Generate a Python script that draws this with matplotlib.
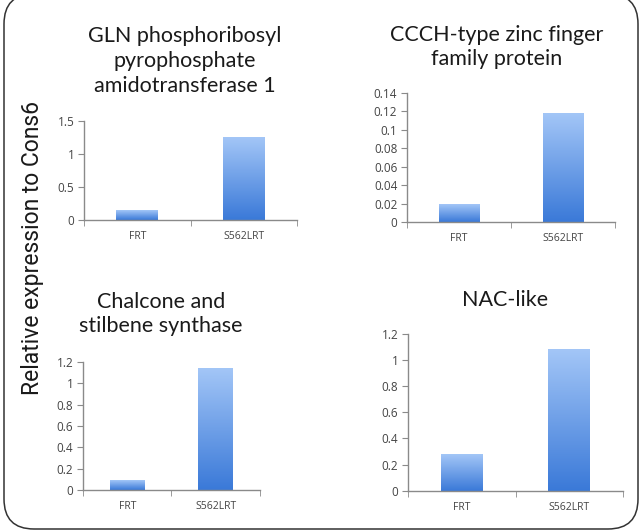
import matplotlib
matplotlib.use("Agg")
import matplotlib.pyplot as plt
import numpy as np
from matplotlib.colors import LinearSegmentedColormap
from matplotlib.patches import FancyBboxPatch
from matplotlib.ticker import FixedLocator

# data
categories = ["FRT", "S562LRT"]
gln_values = [0.145, 1.25]
ccch_values = [0.0185, 0.118]
chalcone_values = [0.088, 1.135]
nac_values = [0.28, 1.08]

titles = [
    "GLN phosphoribosyl\npyrophosphate\namidotransferase 1",
    "CCCH-type zinc finger\nfamily protein",
    "Chalcone and\nstilbene synthase",
    "NAC-like",
]
yticks = [
    [0, 0.5, 1, 1.5],
    [0, 0.02, 0.04, 0.06, 0.08, 0.1, 0.12, 0.14],
    [0, 0.2, 0.4, 0.6, 0.8, 1, 1.2],
    [0, 0.2, 0.4, 0.6, 0.8, 1, 1.2],
]
ylabel = "Relative expression to Cons6"

W, H = 642, 531
BAR_CMAP = LinearSegmentedColormap.from_list("excel_blue", ["#3a79d8", "#a3c6f7"])
AXIS_COLOR = "#8a8a8a"
TITLE_FONT = ["Lato", "DejaVu Sans"]
TICK_FONT = ["Open Sans", "Lato", "DejaVu Sans"]

# panel layout in pixels: left, right, bottom(y=0), top(ymax)
layout = [
    (84, 297, 220.3, 121),
    (407, 615, 222, 93),
    (83, 260, 490, 362),
    (408, 623, 490.7, 334),
]
# title centre in pixels
title_pos = [(185, 61), (497, 47), (161, 314), (505, 300)]

fig = plt.figure(figsize=(W / 100, H / 100), dpi=100)

# rounded border frame
bg = fig.add_axes([0, 0, 1, 1])
bg.set_xlim(0, W)
bg.set_ylim(H, 0)
bg.axis("off")
frame = FancyBboxPatch((4, -6), 634, 535, boxstyle="round,pad=0,rounding_size=30",
                       fill=False, edgecolor="#333333", linewidth=1.1)
bg.add_patch(frame)


def fmt(v):
    s = ("%.2f" % v).rstrip("0").rstrip(".")
    return s


datasets = [gln_values, ccch_values, chalcone_values, nac_values]
for i, values in enumerate(datasets):
    l, r, b, t = layout[i]
    ax = fig.add_axes([l / W, 1 - b / H, (r - l) / W, (b - t) / H])
    x = np.arange(len(categories))
    bars = ax.bar(x, values, width=0.39, color="none")
    for bar in bars:
        bx, bw, bh = bar.get_x(), bar.get_width(), bar.get_height()
        grad = np.linspace(0, 1, 256).reshape(-1, 1)
        ax.imshow(grad, extent=[bx, bx + bw, 0, bh], origin="lower", aspect="auto",
                  cmap=BAR_CMAP, zorder=2)
    ax.set_xlim(-0.5, 1.5)
    ax.set_ylim(0, yticks[i][-1])
    ax.set_yticks(yticks[i])
    ax.set_yticklabels([fmt(v) for v in yticks[i]], family=TICK_FONT, fontsize=8.5, color="#444444")
    ax.set_xticks(x)
    ax.set_xticklabels(categories, family=TICK_FONT, fontsize=7.5, color="#444444")
    ax.xaxis.set_minor_locator(FixedLocator([-0.5, 0.5, 1.5]))
    ax.tick_params(axis="x", which="major", length=0, pad=8)
    ax.tick_params(axis="x", which="minor", length=4, color=AXIS_COLOR, direction="out")
    ax.tick_params(axis="y", length=4, color=AXIS_COLOR, direction="out", pad=3)
    for s in ["top", "right"]:
        ax.spines[s].set_visible(False)
    for s in ["left", "bottom"]:
        ax.spines[s].set_color(AXIS_COLOR)
        ax.spines[s].set_linewidth(1)
    ax.patch.set_alpha(0)

    tx, ty = title_pos[i]
    fig.text(tx / W, 1 - ty / H, titles[i], ha="center", va="center",
             family=TITLE_FONT, fontsize=15.5, color="#1a1a1a", linespacing=1.3)

fig.text(33 / W, 1 - 248 / H, ylabel, rotation=90, ha="center", va="center",
         family=["Roboto", "DejaVu Sans"], fontsize=16.5,
         color="#1a1a1a")

fig.savefig("out.png", dpi=100)
